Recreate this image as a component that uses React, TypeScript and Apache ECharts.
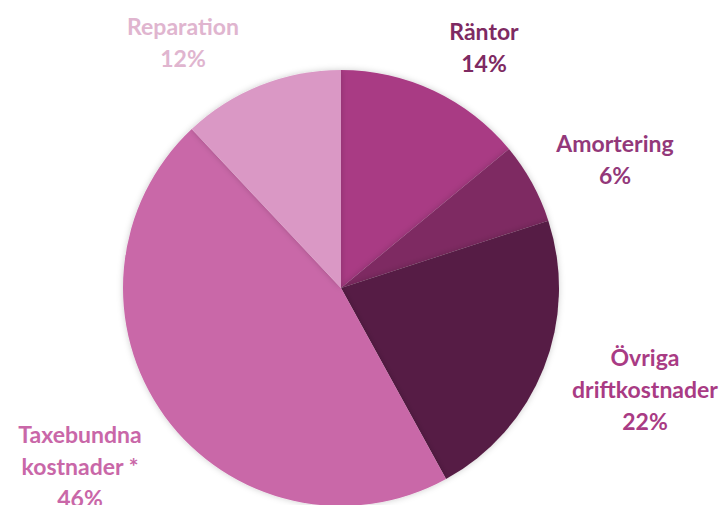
import React, { useEffect, useRef } from "react";
import * as echarts from "echarts";

const categories = ["Räntor", "Amortering", "Övriga\ndriftkostnader", "Taxebundna\nkostnader *", "Reparation"];
const values = [14, 6, 22, 46, 12];
const sliceColors = ["#A93B84", "#7E2A62", "#561D44", "#C967A8", "#DA98C5"];
const labelColors = ["#7E2A62", "#93387A", "#A93B84", "#C967A8", "#E0B5CF"];
const labelPositions: [number, number][] = [
  [484, 47],
  [615, 159],
  [645, 389],
  [80, 466],
  [183, 42],
];

export default function App() {
  const ref = useRef<HTMLDivElement>(null);
  useEffect(() => {
    document.body.style.margin = "0";
    const chart = echarts.init(ref.current!, null, { renderer: "svg" });
    chart.setOption({
      animation: false,
      backgroundColor: "#ffffff",
      series: [
        {
          type: "pie",
          center: [341, 288],
          radius: 218,
          startAngle: 90,
          clockwise: true,
          avoidLabelOverlap: false,
          itemStyle: {
            shadowBlur: 6,
            shadowColor: "rgba(0,0,0,0.2)",
          },
          label: {
            show: true,
            position: "outside",
            formatter: (p: any) => `${p.name}\n${p.value}%`,
            fontFamily: "Lato",
            fontWeight: "bold",
            fontSize: 23,
            lineHeight: 32,
            align: "center",
          },
          labelLine: { show: false },
          labelLayout: (params: any) => {
            const pos = labelPositions[params.dataIndex];
            return { x: pos[0], y: pos[1], align: "center", verticalAlign: "middle" };
          },
          data: categories.map((name, i) => ({
            name,
            value: values[i],
            itemStyle: { color: sliceColors[i] },
            label: { color: labelColors[i] },
          })),
        },
      ],
    });
    return () => chart.dispose();
  }, []);
  return <div ref={ref} style={{ width: 725, height: 505 }} />;
}
